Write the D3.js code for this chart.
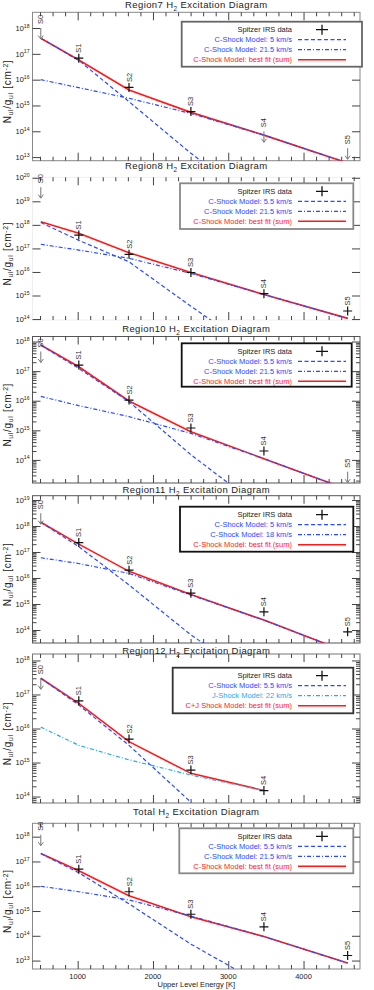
<!DOCTYPE html>
<html>
<head>
<meta charset="utf-8">
<script src="https://cdn.jsdelivr.net/npm/d3@7"></script>
<style>
  body { margin: 0; background: #fff; }
  svg { display: block; font-family: "Liberation Sans", Arial, sans-serif; }
</style>
</head>
<body>
<svg id="chart" width="374" height="990"></svg>
<script>
// H2 pure rotational lines and their upper level energies [K]
const lineNames = ["S0", "S1", "S2", "S3", "S4", "S5"];
const energies = [510, 1015, 1682, 2504, 3474, 4586];

const xDomain = [400, 4750];
const xTickValues = [1000, 2000, 3000, 4000];
const xTitle = "Upper Level Energy [K]";

const titles = ["Region7", "Region8", "Region10", "Region11", "Region12", "Total"];

// Region7
const obs7 = [1.0e18, 6.8e16, 5.0e15, 5.8e14, 1.0e14, 2.2e13];
const lim7 = [true, false, false, false, true, true];
const slow7 = [4.0e17, 5.6e16, 1.4e15, 1.4e13, 1.0e11, null];
const fast7 = [1.0e16, 4.9e15, 1.9e15, 4.9e14, 7.1e13, 5.9e12];
const sum7 = [4.0e17, 5.8e16, 4.0e15, 5.4e14, 7.1e13, 5.9e12];
const legend7 = ["Spitzer IRS data", "C-Shock Model: 5 km/s", "C-Shock Model: 21.5 km/s", "C-Shock Model: best fit (sum)"];

// Region8
const obs8 = [4.0e19, 3.7e17, 5.6e16, 9.5e15, 1.2e15, 2.2e14];
const lim8 = [true, false, false, false, false, false];
const slow8 = [1.26e18, 2.2e17, 2.7e16, 3.5e14, 2.5e12, null];
const fast8 = [1.5e17, 8.5e16, 3.8e16, 8.7e15, 1.1e15, 1.07e14];
const sum8 = [1.35e18, 4.4e17, 6.6e16, 9.5e15, 1.1e15, 1.07e14];
const legend8 = ["Spitzer IRS data", "C-Shock Model: 5.5 km/s", "C-Shock Model: 21.5 km/s", "C-Shock Model: best fit (sum)"];

// Region10
const obs10 = [4.6e17, 1.6e17, 1.05e16, 1.2e15, 2.0e14, 4.0e13];
const lim10 = [true, false, false, false, false, true];
const slow10 = [7.6e17, 1.23e17, 9.3e15, 1.5e14, 2.0e12, null];
const fast10 = [1.4e16, 6.8e15, 2.9e15, 7.9e14, 1.1e14, 1.0e13];
const sum10 = [7.6e17, 1.4e17, 9.8e15, 8.9e14, 1.1e14, 1.0e13];
const legend10 = ["Spitzer IRS data", "C-Shock Model: 5.5 km/s", "C-Shock Model: 21.5 km/s", "C-Shock Model: best fit (sum)"];

// Region11
const obs11 = [3.1e18, 2.3e17, 2.0e16, 2.6e15, 5.0e14, 8.5e13];
const lim11 = [true, false, false, false, false, false];
const slow11 = [1.4e18, 1.6e17, 5.4e15, 6.5e13, 8.0e11, null];
const fast11 = [6.0e16, 3.6e16, 1.5e16, 2.2e15, 2.4e14, 1.4e13];
const sum11 = [1.4e18, 2.0e17, 1.8e16, 2.3e15, 2.4e14, 1.4e13];
const legend11 = ["Spitzer IRS data", "C-Shock Model: 5 km/s", "C-Shock Model: 18 km/s", "C-Shock Model: best fit (sum)"];

// Region12
const obs12 = [3.0e17, 6.5e16, 4.9e15, 6.0e14, 1.5e14, null];
const lim12 = [true, false, false, false, false, false];
const slow12 = [3.0e17, 4.9e16, 3.2e15, 6.8e13, null, null];
const fast12 = [1.1e16, 3.2e15, 1.2e15, 4.3e14, 1.5e14, null];
const sum12 = [3.0e17, 5.5e16, 4.1e15, 4.8e14, 1.5e14, null];
const legend12 = ["Spitzer IRS data", "C-Shock Model: 5.5 km/s", "J-Shock Model: 22 km/s", "C+J Shock Model: best fit (sum)"];

// Total
const obsTot = [1.2e18, 4.9e16, 6.0e15, 7.4e14, 2.3e14, 1.6e13];
const limTot = [true, false, false, false, false, false];
const slowTot = [2.1e17, 3.5e16, 1.95e15, 4.6e13, 1.0e12, null];
const fastTot = [1.0e16, 6.0e15, 2.8e15, 6.3e14, 9.3e13, 7.9e12];
const sumTot = [2.1e17, 4.2e16, 4.1e15, 5.9e14, 9.3e13, 7.9e12];
const legendTot = ["Spitzer IRS data", "C-Shock Model: 5.5 km/s", "C-Shock Model: 21.5 km/s", "C-Shock Model: best fit (sum)"];

const panels = [
  { obs: obs7, lim: lim7, slow: slow7, fast: fast7, sum: sum7, legend: legend7 },
  { obs: obs8, lim: lim8, slow: slow8, fast: fast8, sum: sum8, legend: legend8 },
  { obs: obs10, lim: lim10, slow: slow10, fast: fast10, sum: sum10, legend: legend10 },
  { obs: obs11, lim: lim11, slow: slow11, fast: fast11, sum: sum11, legend: legend11 },
  { obs: obs12, lim: lim12, slow: slow12, fast: fast12, sum: sum12, legend: legend12 },
  { obs: obsTot, lim: limTot, slow: slowTot, fast: fastTot, sum: sumTot, legend: legendTot },
];

// page geometry of each panel (pixels)
const layout = [
  { top: 12.3, bottom: 160.7, yExp: [12.86, 18.61], titleY: 5, frame: "#888", box: [181.7, 362, 21.7, 66.7], boxStroke: "#666", minorY: false },
  { top: 177.3, bottom: 320, yExp: [13.96, 20.02], titleY: 166, frame: "#eee", box: [180, 353.3, 183.3, 229], boxStroke: "#888", minorY: false },
  { top: 336.5, bottom: 483, yExp: [13.22, 18.17], titleY: 329, frame: "#555", box: [181.7, 351.7, 343.3, 386.7], boxStroke: "#111", minorY: true },
  { top: 495.7, bottom: 643, yExp: [13.5, 19.165], titleY: 490, frame: "#555", box: [180, 353.3, 506.7, 551.7], boxStroke: "#111", minorY: true },
  { top: 654, bottom: 803, yExp: [13.81, 18.19], titleY: 651, frame: "#777", box: [172.7, 353.3, 667.7, 713.3], boxStroke: "#333", minorY: true },
  { top: 823.3, bottom: 969, yExp: [12.66, 18.54], titleY: 812, frame: "#888", box: [179.3, 353.3, 828.3, 873.3], boxStroke: "#888", minorY: false },
];

const left = 32.5, right = 360;
const blue = "#2a4bff", cyan = "#2aaaee", red = "#ff1a1a", ink = "#222";

const svg = d3.select("#chart");
const x = d3.scaleLinear().domain(xDomain).range([left, right]);

const xMinor = d3.range(500, xDomain[1], 1000 / 6).filter(v => !xTickValues.some(t => Math.abs(t - v) < 1));

// text made of pieces (sub/superscripts), laid out one after another; returns group + width
function rich(parent, pieces, size, spacing) {
  const grp = parent.append("g").attr("fill", ink);
  let cx = 0;
  pieces.forEach(([txt, scale, dy]) => {
    const t = grp.append("text").attr("x", cx).attr("y", dy)
      .attr("font-size", size * scale).attr("letter-spacing", spacing || 0).text(txt);
    cx += t.node().getComputedTextLength();
  });
  return { grp, width: cx };
}

panels.forEach((p, i) => {
  const L = layout[i];
  const y = d3.scaleLog().domain([10 ** L.yExp[0], 10 ** L.yExp[1]]).range([L.bottom, L.top]);
  const g = svg.append("g");
  const fastColor = i === 4 ? cyan : blue;

  const clipId = "clip" + i;
  svg.append("clipPath").attr("id", clipId).append("rect")
    .attr("x", left).attr("y", L.top).attr("width", right - left).attr("height", L.bottom - L.top);

  // frame
  g.append("rect").attr("x", left).attr("y", L.top).attr("width", right - left).attr("height", L.bottom - L.top)
    .attr("fill", "none").attr("stroke", L.frame).attr("stroke-width", 1);

  // y ticks
  const lo = Math.ceil(L.yExp[0]), hi = Math.floor(L.yExp[1]);
  const yMajor = d3.range(lo, hi + 1).map(k => 10 ** k);
  const yMinor = [];
  if (L.minorY) {
    for (let k = Math.floor(L.yExp[0]); k <= hi; k++) {
      for (let m = 2; m <= 9; m++) {
        const v = m * 10 ** k;
        if (v > 10 ** L.yExp[0] && v < 10 ** L.yExp[1]) yMinor.push(v);
      }
    }
  }
  const axisStyle = a => a.attr("color", "#444").call(s => s.select(".domain").remove());
  g.append("g").attr("transform", `translate(${left},0)`)
    .call(d3.axisLeft(y).tickValues(yMajor).tickSize(-8).tickFormat("")).call(axisStyle);
  g.append("g").attr("transform", `translate(${right},0)`)
    .call(d3.axisRight(y).tickValues(yMajor).tickSize(-8).tickFormat("")).call(axisStyle);
  g.append("g").attr("transform", `translate(${left},0)`)
    .call(d3.axisLeft(y).tickValues(yMinor).tickSize(-4).tickFormat("")).call(axisStyle);
  g.append("g").attr("transform", `translate(${right},0)`)
    .call(d3.axisRight(y).tickValues(yMinor).tickSize(-4).tickFormat("")).call(axisStyle);

  yMajor.forEach(v => {
    const exp = String(Math.round(Math.log10(v)));
    const r = rich(g, [["10", 1, 0], [exp, 0.68, -3.2]], 7.5);
    r.grp.attr("transform", `translate(${29.5 - r.width},${y(v) + 2.7})`);
  });

  // x ticks top and bottom
  [[L.bottom, d3.axisBottom], [L.top, d3.axisTop]].forEach(([yy, ax]) => {
    g.append("g").attr("transform", `translate(0,${yy})`)
      .call(ax(x).tickValues(xTickValues).tickSize(-8).tickFormat("")).call(axisStyle);
    g.append("g").attr("transform", `translate(0,${yy})`)
      .call(ax(x).tickValues(xMinor).tickSize(-4).tickFormat("")).call(axisStyle);
  });

  // y label, reading bottom to top
  const yl = rich(g, [["N", 1, 0], ["ul", 0.68, 2], ["/g", 1, 0], ["ul", 0.68, 2],
    ["\u00a0[cm", 1, 0], ["-2", 0.68, -3.5], ["]", 1, 0]], 10, 0.7);
  yl.grp.attr("transform", `translate(11,${(L.top + L.bottom) / 2 + 5 + yl.width / 2}) rotate(-90)`);

  // title
  const tt = rich(g, [[titles[i] + "\u00a0H", 1, 0], ["2", 0.68, 2.5], ["\u00a0Excitation\u00a0Diagram", 1, 0]], 9.5, 0.4);
  tt.grp.attr("transform", `translate(${(left + right) / 2 - tt.width / 2},${L.titleY + 3.4})`);

  // model curves
  const line = d3.line().defined(d => d.v != null).x(d => x(d.e)).y(d => y(d.v));
  const series = arr => arr.map((v, k) => ({ e: energies[k], v }));
  const curves = g.append("g").attr("clip-path", `url(#${clipId})`).attr("fill", "none");
  curves.append("path").datum(series(p.sum)).attr("d", line).attr("stroke", red).attr("stroke-width", 1.6);
  curves.append("path").datum(series(p.slow)).attr("d", line).attr("stroke", blue)
    .attr("stroke-width", 1.2).attr("stroke-dasharray", "4,2.5");
  curves.append("path").datum(series(p.fast)).attr("d", line).attr("stroke", fastColor)
    .attr("stroke-width", 1.2).attr("stroke-dasharray", "4,2,1,2");

  // data: crosses and upper-limit arrows
  p.obs.forEach((v, k) => {
    if (v == null) return;
    const px = x(energies[k]), py = y(v);
    if (p.lim[k]) {
      const yb = Math.min(py + 11, L.bottom);
      g.append("path").attr("d", `M${px},${py}V${yb}M${px - 2.5},${yb - 3.5}L${px},${yb}L${px + 2.5},${yb - 3.5}`)
        .attr("fill", "none").attr("stroke", "#777").attr("stroke-width", 1);
    } else {
      g.append("path").attr("d", `M${px - 4.5},${py}H${px + 4.5}M${px},${py - 4.5}V${py + 4.5}`)
        .attr("stroke", "#111").attr("stroke-width", 1.2);
    }
    const off = p.lim[k] ? 4 : 5.5;
    g.append("text").attr("transform", `translate(${px + 2.5},${py - off}) rotate(-90)`)
      .attr("font-size", 7.5).attr("fill", "#333").text(lineNames[k]);
  });

  // legend
  const [bx0, bx1, by0, by1] = L.box;
  g.append("rect").attr("x", bx0).attr("y", by0).attr("width", bx1 - bx0).attr("height", by1 - by0)
    .attr("fill", "#fff").attr("stroke", L.boxStroke).attr("stroke-width", 1.8);
  const rowColors = [ink, blue, fastColor, red];
  p.legend.forEach((label, k) => {
    const ry = by0 + 8 + k * 10;
    g.append("text").attr("x", 292).attr("y", ry + 2.7).attr("text-anchor", "end")
      .attr("font-size", 7.5).attr("fill", rowColors[k]).text(label);
    if (k === 0) {
      g.append("path").attr("d", `M316,${ry}H328M322,${ry - 5}V${ry + 5}`).attr("stroke", "#111").attr("stroke-width", 1.3);
    } else {
      g.append("line").attr("x1", 298).attr("x2", 346).attr("y1", ry).attr("y2", ry)
        .attr("stroke", rowColors[k]).attr("stroke-width", k === 3 ? 1.6 : 1.2)
        .attr("stroke-dasharray", k === 1 ? "4,2.5" : k === 2 ? "4,2,1,2" : null);
    }
  });

  // x labels only on the last panel
  if (i === panels.length - 1) {
    xTickValues.forEach(v => {
      g.append("text").attr("x", x(v)).attr("y", L.bottom + 9.6)
        .attr("text-anchor", "middle").attr("font-size", 7.5).attr("fill", ink).text(v);
    });
    g.append("text").attr("x", (left + right) / 2).attr("y", L.bottom + 18)
      .attr("text-anchor", "middle").attr("font-size", 7.5).attr("fill", ink).text(xTitle);
  }
});
</script>
</body>
</html>
